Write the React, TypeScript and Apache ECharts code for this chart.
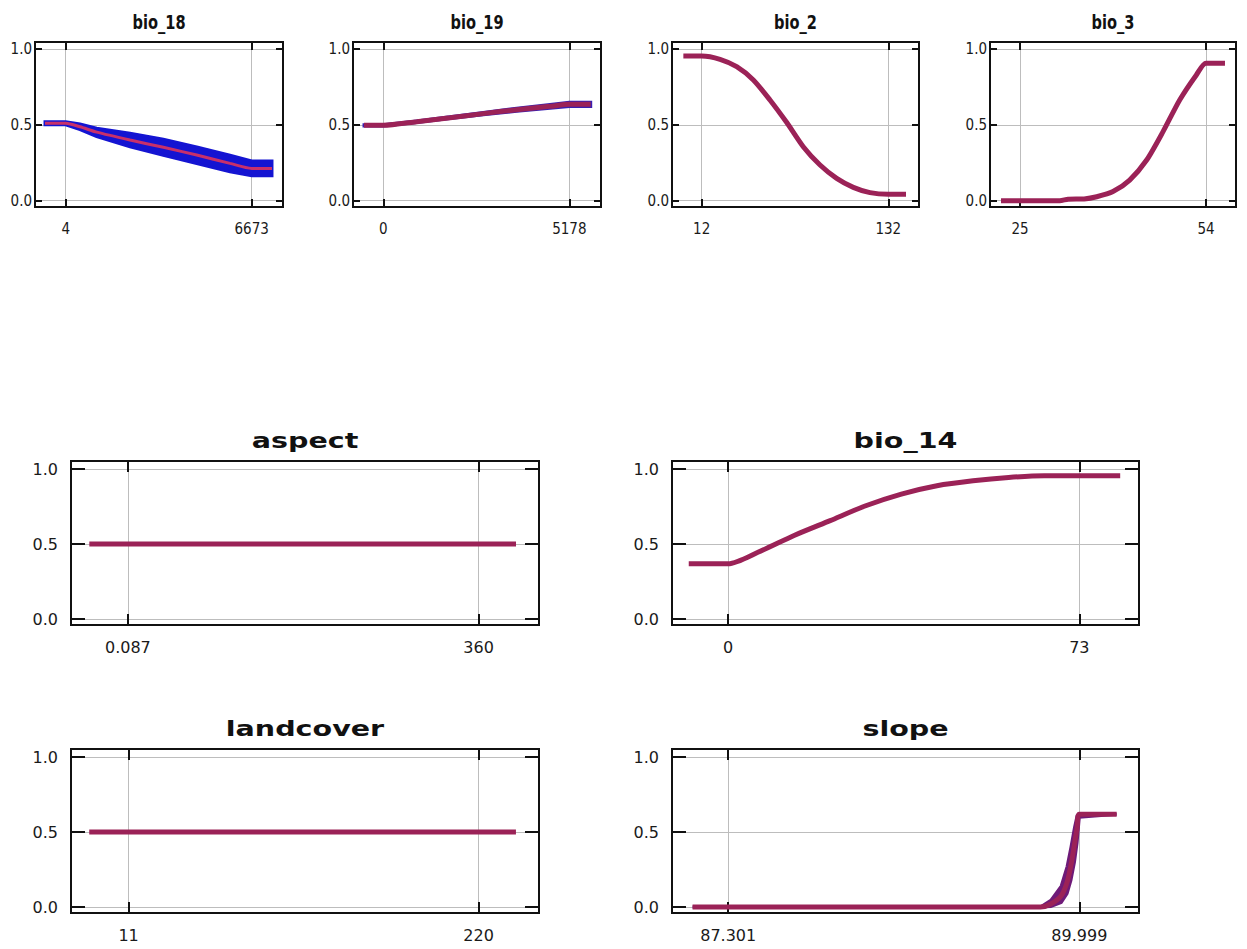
import React, { useEffect, useRef } from 'react';
import * as echarts from 'echarts';

// ---------------- data ----------------
const yTicks = [0, 0.5, 1];

// bio_18
const bio18Ticks = [4, 6673];
const bio18TickLabels = ['4', '6673'];
const bio18X = [-738, 4, 517, 1115, 2310, 3505, 4702, 5896, 6673, 7400];
const bio18Mean = [0.51, 0.51, 0.487, 0.452, 0.4, 0.352, 0.301, 0.246, 0.213, 0.213];
const bio18Lower = [0.5, 0.5, 0.468, 0.422, 0.355, 0.3, 0.245, 0.19, 0.165, 0.165];
const bio18Upper = [0.52, 0.52, 0.506, 0.478, 0.445, 0.405, 0.355, 0.3, 0.262, 0.262];

// bio_19
const bio19Ticks = [0, 5178];
const bio19TickLabels = ['0', '5178'];
const bio19X = [-537, 0, 930, 1857, 2784, 3714, 4641, 5178, 5774];
const bio19Mean = [0.497, 0.497, 0.521, 0.547, 0.574, 0.6, 0.622, 0.635, 0.635];
const bio19Lower = [0.493, 0.493, 0.516, 0.541, 0.566, 0.59, 0.61, 0.621, 0.621];
const bio19Upper = [0.501, 0.501, 0.526, 0.553, 0.582, 0.61, 0.634, 0.649, 0.649];

// bio_2
const bio2Ticks = [12, 132];
const bio2TickLabels = ['12', '132'];
const bio2X = [0.2, 12, 23.8, 34.5, 45.2, 55.9, 66.7, 77.3, 88.1, 98.8, 109.5, 120.2, 132, 143.4];
const bio2Mean = [0.954, 0.954, 0.932, 0.883, 0.796, 0.664, 0.515, 0.356, 0.235, 0.147, 0.088, 0.053, 0.042, 0.042];

// bio_3
const bio3Ticks = [25, 54];
const bio3TickLabels = ['25', '54'];
const bio3X = [22.04, 25, 31.2, 32.5, 35, 36.96, 39.5, 42.1, 44.75, 47.3, 49.9, 52.5, 54, 56.96];
const bio3Mean = [0.0, 0.0, 0.0, 0.01, 0.012, 0.026, 0.06, 0.136, 0.268, 0.455, 0.664, 0.829, 0.906, 0.906];

// aspect
const aspectTicks = [0.087, 360];
const aspectTickLabels = ['0.087', '360'];
const aspectX = [-39.5, 398.4];
const aspectMean = [0.5, 0.5];

// bio_14
const bio14Ticks = [0, 73];
const bio14TickLabels = ['0', '73'];
const bio14X = [-8.2, 0, 6.3, 13.7, 21.2, 28.6, 36.0, 43.4, 50.9, 58.3, 65.7, 73, 81.5];
const bio14Mean = [0.369, 0.369, 0.447, 0.558, 0.657, 0.756, 0.834, 0.89, 0.923, 0.945, 0.956, 0.956, 0.956];

// landcover
const landcoverTicks = [11, 220];
const landcoverTickLabels = ['11', '220'];
const landcoverX = [-12.5, 242.3];
const landcoverMean = [0.5, 0.5];

// slope
const slopeTicks = [87.301, 89.999];
const slopeTickLabels = ['87.301', '89.999'];
const slopeX = [87.027, 89.7, 89.78, 89.86, 89.905, 89.935, 89.962, 89.982, 89.999, 90.286];
const slopeMean = [0.0, 0.0, 0.02, 0.075, 0.165, 0.28, 0.42, 0.53, 0.62, 0.62];
const slopeLower = [0.0, 0.0, 0.004, 0.03, 0.09, 0.18, 0.3, 0.43, 0.6, 0.62];
const slopeUpper = [0.0, 0.0, 0.045, 0.14, 0.27, 0.4, 0.53, 0.61, 0.62, 0.62];

// ---------------- styles ----------------
const MAROON = '#9b2257';
const TOP_Y = [-0.0415, 1.046];
const BOTTOM_Y = [-0.04, 1.055];

const rowStyle: any = {
  top: {
    labelFont: "'Liberation Sans Narrow', 'DejaVu Sans Condensed', 'Arial Narrow', sans-serif",
    labelSize: 15, yMargin: 3, xMargin: 14, yTick: 7, xTick: 8,
    titleSize: 20, titleScale: 0.73, yRange: TOP_Y,
  },
  bottom: {
    labelFont: "'DejaVu Sans', Verdana, sans-serif",
    labelSize: 16, yMargin: 13, xMargin: 14, yTick: 14, xTick: 11,
    titleSize: 21, titleScale: 1.36, yRange: BOTTOM_Y,
  },
};

const panels: any[] = [
  { name: 'bio_18', row: 'top', box: [35, 42, 248, 165], xMin: -1096.7, xMax: 7795.3, ticks: bio18Ticks, tickLabels: bio18TickLabels, x: bio18X, mean: bio18Mean, lower: bio18Lower, upper: bio18Upper, bandColor: '#1414d2', meanColor: '#c8306a', meanWidth: 3 },
  { name: 'bio_19', row: 'top', box: [353, 42, 248, 165], xMin: -844, xMax: 6060.5, ticks: bio19Ticks, tickLabels: bio19TickLabels, x: bio19X, mean: bio19Mean, lower: bio19Lower, upper: bio19Upper, bandColor: '#3a1fb0', meanColor: MAROON, meanWidth: 5 },
  { name: 'bio_2', row: 'top', box: [672, 42, 247, 165], xMin: -7.1, xMax: 151.74, ticks: bio2Ticks, tickLabels: bio2TickLabels, x: bio2X, mean: bio2Mean, meanColor: MAROON, meanWidth: 5 },
  { name: 'bio_3', row: 'top', box: [990, 42, 246, 165], xMin: 20.32, xMax: 58.68, ticks: bio3Ticks, tickLabels: bio3TickLabels, x: bio3X, mean: bio3Mean, meanColor: MAROON, meanWidth: 5 },
  { name: 'aspect', row: 'bottom', box: [71, 461, 468, 164], xMin: -58.3, xMax: 422, ticks: aspectTicks, tickLabels: aspectTickLabels, x: aspectX, mean: aspectMean, meanColor: MAROON, meanWidth: 5 },
  { name: 'bio_14', row: 'bottom', box: [672, 461, 467, 164], xMin: -11.68, xMax: 85.41, ticks: bio14Ticks, tickLabels: bio14TickLabels, x: bio14X, mean: bio14Mean, meanColor: MAROON, meanWidth: 5 },
  { name: 'landcover', row: 'bottom', box: [71, 749, 468, 164], xMin: -23.39, xMax: 256.07, ticks: landcoverTicks, tickLabels: landcoverTickLabels, x: landcoverX, mean: landcoverMean, meanColor: MAROON, meanWidth: 5 },
  { name: 'slope', row: 'bottom', box: [672, 749, 467, 164], xMin: 86.869, xMax: 90.4577, ticks: slopeTicks, tickLabels: slopeTickLabels, x: slopeX, mean: slopeMean, lower: slopeLower, upper: slopeUpper, bandColor: '#6e1a78', meanColor: MAROON, meanWidth: 5 },
];

function buildOption() {
  const grid: any[] = [];
  const xAxis: any[] = [];
  const yAxis: any[] = [];
  const series: any[] = [];
  const graphic: any[] = [];

  panels.forEach((p, i) => {
    const rs = rowStyle[p.row];
    const [left, top, width, height] = p.box;
    grid.push({
      left, top, width, height,
      show: true, borderColor: '#111', borderWidth: 2, backgroundColor: '#fff',
      containLabel: false, outerBoundsMode: 'none',
    });
    const tickStyle = { color: '#111', width: 2 };
    const labelCommon = { fontSize: rs.labelSize, fontFamily: rs.labelFont, color: '#1a1a1a' };
    const fmtX = (v: number) => {
      let best = 0;
      let bd = Infinity;
      p.ticks.forEach((t: number, k: number) => {
        const d = Math.abs(t - v);
        if (d < bd) { bd = d; best = k; }
      });
      return p.tickLabels[best];
    };
    xAxis.push({
      gridIndex: i, type: 'value', position: 'bottom', min: p.xMin, max: p.xMax,
      axisLine: { show: false, onZero: false },
      axisTick: { show: true, inside: true, length: rs.xTick, lineStyle: tickStyle, customValues: p.ticks },
      axisLabel: { show: true, customValues: p.ticks, margin: rs.xMargin, formatter: fmtX, ...labelCommon },
      splitLine: { show: true, lineStyle: { color: '#bdbdbd', width: 1 } },
      minorTick: { show: false }, minorSplitLine: { show: false },
    });
    xAxis.push({
      gridIndex: i, type: 'value', position: 'top', min: p.xMin, max: p.xMax,
      axisLine: { show: false, onZero: false },
      axisTick: { show: true, inside: true, length: rs.xTick, lineStyle: tickStyle, customValues: p.ticks },
      axisLabel: { show: false },
      splitLine: { show: false },
    });
    yAxis.push({
      gridIndex: i, type: 'value', position: 'left', min: rs.yRange[0], max: rs.yRange[1],
      axisLine: { show: false, onZero: false },
      axisTick: { show: true, inside: true, length: rs.yTick, lineStyle: tickStyle, customValues: yTicks },
      axisLabel: { show: true, customValues: yTicks, margin: rs.yMargin, formatter: (v: number) => v.toFixed(1), ...labelCommon },
      splitLine: { show: true, lineStyle: { color: '#bdbdbd', width: 1 } },
    });
    yAxis.push({
      gridIndex: i, type: 'value', position: 'right', min: rs.yRange[0], max: rs.yRange[1],
      axisLine: { show: false, onZero: false },
      axisTick: { show: true, inside: true, length: rs.yTick, lineStyle: tickStyle, customValues: yTicks },
      axisLabel: { show: false },
      splitLine: { show: false },
    });

    if (p.lower && p.upper) {
      const bandData = p.x.map((x: number, k: number) => [x, p.lower[k], p.upper[k]]);
      series.push({
        type: 'custom',
        name: p.name + ' band',
        xAxisIndex: i * 2, yAxisIndex: i * 2,
        data: bandData,
        encode: { x: 0, y: [1, 2] },
        silent: true,
        z: 2,
        renderItem: (params: any, api: any) => {
          if (params.dataIndex !== 0) return null;
          const pts: number[][] = [];
          bandData.forEach((d: number[]) => pts.push(api.coord([d[0], d[2]])));
          for (let k = bandData.length - 1; k >= 0; k--) {
            pts.push(api.coord([bandData[k][0], bandData[k][1]]));
          }
          return {
            type: 'polygon',
            shape: { points: pts },
            style: { fill: p.bandColor, stroke: p.bandColor, lineWidth: 3, lineJoin: 'miter' },
          };
        },
      });
    }
    series.push({
      type: 'line',
      name: p.name,
      xAxisIndex: i * 2, yAxisIndex: i * 2,
      data: p.x.map((x: number, k: number) => [x, p.mean[k]]),
      showSymbol: false, symbol: 'none',
      smooth: p.x.length > 3 ? 0.25 : false,
      lineStyle: { width: p.meanWidth, color: p.meanColor, cap: 'butt' },
      silent: true,
      z: 3,
    });

    graphic.push({
      type: 'text',
      x: left + width / 2,
      y: top - 20,
      scaleX: rs.titleScale,
      silent: true,
      style: {
        text: p.name,
        fontSize: rs.titleSize,
        fontWeight: 'bold',
        fontFamily: "'DejaVu Sans', Verdana, sans-serif",
        fill: '#111',
        align: 'center',
        verticalAlign: 'middle',
      },
    });
  });

  return {
    animation: false,
    backgroundColor: '#ffffff',
    grid, xAxis, yAxis, series, graphic,
  };
}

export default function App() {
  const ref = useRef<HTMLDivElement>(null);
  useEffect(() => {
    if (!ref.current) return;
    const chart = echarts.init(ref.current, null, { renderer: 'svg' });
    chart.setOption(buildOption() as any);
    return () => chart.dispose();
  }, []);
  return (
    <div
      ref={ref}
      style={{ position: 'absolute', left: 0, top: 0, width: 1247, height: 949, background: '#fff' }}
    />
  );
}
